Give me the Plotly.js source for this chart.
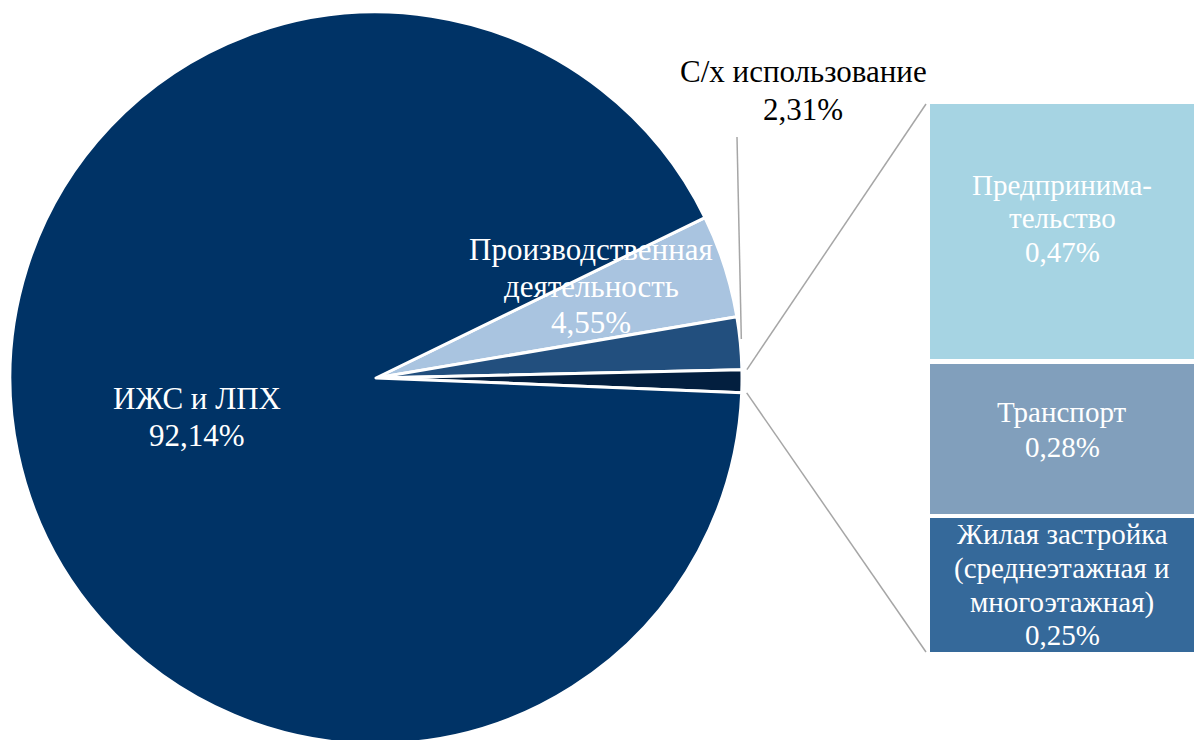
<!DOCTYPE html>
<html>
<head>
<meta charset="utf-8">
<script src="https://cdn.plot.ly/plotly-3.0.1.min.js"></script>
<style>
html,body{margin:0;padding:0;overflow:hidden;background:#fff;}
#chart{width:1194px;height:760px;}
</style>
</head>
<body>
<div id="chart"></div>
<script>
// ---- data ----
const pieLabels = ['Производственная<br>деятельность', 'С/х использование', 'Прочие', 'ИЖС и ЛПХ'];
const pieValues = [4.55, 2.31, 1.00, 92.14];
const pieColors = ['#a9c4e0', '#224f7e', '#031f3f', '#003366'];

const barLabels = ['Жилая застройка<br>(среднеэтажная и<br>многоэтажная)', 'Транспорт', 'Предпринима-<br>тельство'];
const barValues = [0.25, 0.28, 0.47];
const barColors = ['#35699a', '#819fbc', '#a6d4e3'];

const fmt = v => v.toFixed(2).replace('.', ',') + '%';

// ---- geometry (page pixels) ----
const W = 1194, H = 760;
const cx = 376, cy = 378, R = 366;
const rotation = 64;
const px = x => x / W;
const py = y => (H - y) / H;

const barLeft = 928, barTop = 102, barBottom = 654;
const total = barValues.reduce((a, b) => a + b, 0);

const traces = [];
traces.push({
  type: 'pie',
  labels: pieLabels,
  values: pieValues,
  sort: false,
  direction: 'clockwise',
  rotation: rotation,
  textinfo: 'none',
  hoverinfo: 'none',
  marker: {colors: pieColors, line: {color: '#ffffff', width: 3}},
  domain: {x: [px(cx - R), px(cx + R)], y: [py(cy + R), py(cy - R)]},
  showlegend: false
});

const xr = [-1, 0.98];
barValues.forEach((v, i) => {
  traces.push({
    type: 'bar',
    x: [0], y: [v], width: [2],
    marker: {color: barColors[i], line: {color: '#ffffff', width: 4.5}},
    hoverinfo: 'none',
    showlegend: false,
    xaxis: 'x', yaxis: 'y'
  });
});

function piePoint(frac, r) {
  const th = (rotation + frac * 360) * Math.PI / 180;
  return [cx + r * Math.sin(th), cy - r * Math.cos(th)];
}
const pieTotal = pieValues.reduce((a, b) => a + b, 0);
const cum = [0];
pieValues.forEach((v, i) => cum.push(cum[i] + v / pieTotal));

const otherStart = piePoint(cum[2], R + 5);
const otherEnd = piePoint(cum[3], R + 5);
const agriMid = piePoint((cum[1] + cum[2]) / 2, R + 1);

const shapes = [
  {type: 'line', xref: 'paper', yref: 'paper', x0: px(otherStart[0]), y0: py(otherStart[1]), x1: px(barLeft - 2), y1: py(barTop + 2), line: {color: '#a6a6a6', width: 1.5}},
  {type: 'line', xref: 'paper', yref: 'paper', x0: px(otherEnd[0]), y0: py(otherEnd[1]), x1: px(barLeft - 2), y1: py(barBottom - 2), line: {color: '#a6a6a6', width: 1.5}},
  {type: 'line', xref: 'paper', yref: 'paper', x0: px(737), y0: py(137), x1: px(agriMid[0]), y1: py(agriMid[1] - 4), line: {color: '#a6a6a6', width: 1.5}}
];

const fam = 'Liberation Serif, Times New Roman, serif';
const annotations = [];
// one annotation per line so that line spacing can follow the reference
function addLabel(text, xPix, baselines, color, fs) {
  const lines = text.split('<br>');
  lines.forEach((ln, k) => {
    annotations.push({
      xref: 'paper', yref: 'paper', x: px(xPix), y: py(baselines[k] - fs * 0.33),
      text: ln, showarrow: false, xanchor: 'center', yanchor: 'middle',
      font: {family: fam, size: fs, color: color}
    });
  });
}
addLabel(pieLabels[3] + '<br>' + fmt(pieValues[3]), 197, [409, 446], '#ffffff', 31);
addLabel(pieLabels[0] + '<br>' + fmt(pieValues[0]), 591, [260, 297, 333], '#ffffff', 31);
addLabel(pieLabels[1] + '<br>' + fmt(pieValues[1]), 803, [82, 120], '#000000', 31);
const barBaselines = [[544, 578, 612, 645], [422, 457], [195, 228, 262]];
barValues.forEach((v, i) => addLabel(barLabels[i] + '<br>' + fmt(v), 1062, barBaselines[i], '#ffffff', 29));

const layout = {
  width: W, height: H,
  margin: {l: 0, r: 0, t: 0, b: 0},
  font: {family: fam},
  paper_bgcolor: '#ffffff', plot_bgcolor: 'rgba(0,0,0,0)',
  barmode: 'stack',
  xaxis: {domain: [px(barLeft), 1], range: xr, visible: false, fixedrange: true},
  yaxis: {domain: [py(barBottom), py(barTop)], range: [0, total], visible: false, fixedrange: true},
  shapes: shapes,
  annotations: annotations,
  showlegend: false
};

Plotly.newPlot('chart', traces, layout, {staticPlot: true});
</script>
</body>
</html>
